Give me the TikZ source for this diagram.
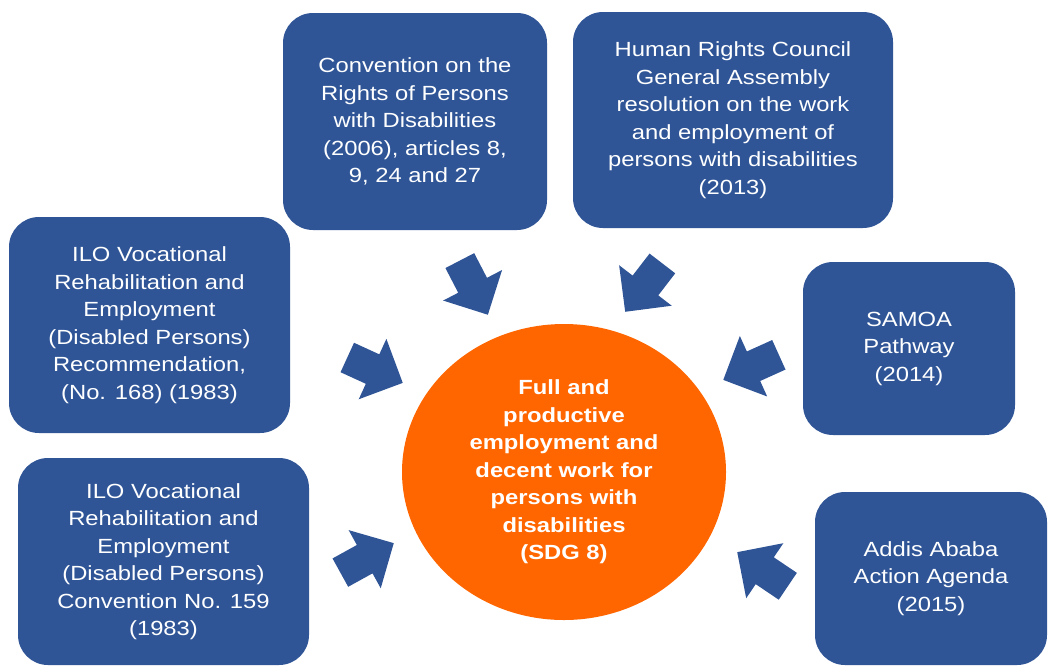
\documentclass[tikz,border=0pt]{standalone}
\usepackage{fontspec}
\setmainfont{Liberation Sans}[FakeStretch=1.16]
\usetikzlibrary{shapes, positioning}

\definecolor{docblue}{RGB}{47,85,151}
\definecolor{goalorange}{RGB}{255,102,0}

\begin{document}
\begin{tikzpicture}[x = 1pt, y = -1pt,
    doc/.style  = {rectangle, rounded corners = 30pt, fill = docblue, text = white,
                   align = center, inner sep = 0pt,
                   font = \fontsize{20.5}{27.5}\selectfont},
    goal/.style = {ellipse, fill = goalorange, text = white, align = center,
                   inner sep = 0pt, minimum width = 324pt, minimum height = 296pt,
                   font = \fontsize{20.5}{27.5}\selectfont\bfseries},
    push/.style = {single arrow, fill = docblue, anchor = tip,
                   inner xsep = 0pt, inner ysep = 16pt,
                   minimum height = 61pt, single arrow head extend = 17pt}]
    \useasboundingbox (0,0) rectangle (1048,667);

    % the goal in the middle
    \node[goal] (sdg) at (564,472) {Full and\\productive\\employment and\\decent work for\\persons with\\disabilities\\(SDG 8)};

    % the instruments round it
    \node[doc, minimum width = 264pt, minimum height = 217pt] (conv)    at (415,121.5)
        {Convention on the\\Rights of Persons\\with Disabilities\\(2006), articles 8,\\9, 24 and 27};
    \node[doc, minimum width = 320pt, minimum height = 216pt] (hrc)     at (733,120)
        {Human Rights Council\\General Assembly\\resolution on the work\\and employment of\\persons with disabilities\\(2013)};
    \node[doc, minimum width = 281pt, minimum height = 216pt] (ilorec)  at (149.5,325)
        {ILO Vocational\\Rehabilitation and\\Employment\\(Disabled Persons)\\Recommendation,\\(No. 168) (1983)};
    \node[doc, minimum width = 291pt, minimum height = 207pt] (iloconv) at (163.5,561.5)
        {ILO Vocational\\Rehabilitation and\\Employment\\(Disabled Persons)\\Convention No. 159\\(1983)};
    \node[doc, minimum width = 212pt, minimum height = 173pt] (samoa)   at (909,348.5)
        {SAMOA\\Pathway\\(2014)};
    \node[doc, minimum width = 232pt, minimum height = 173pt] (addis)   at (931,578.5)
        {Addis Ababa\\Action Agenda\\(2015)};

    % block arrows towards the goal
    \node[push, rotate = -62.6] (pconv)    at (488,315) {};
    \node[push, rotate = -127.6] (phrc)    at (625,312) {};
    \node[push, rotate = -24.6] (pilorec)  at (403,383) {};
    \node[push, rotate = 28.9] (piloconv)  at (394,543) {};
    \node[push, rotate = 204.3] (psamoa)   at (723,380) {};
    \node[push, rotate = 146] (paddis)     at (737,552) {};
\end{tikzpicture}
\end{document}
